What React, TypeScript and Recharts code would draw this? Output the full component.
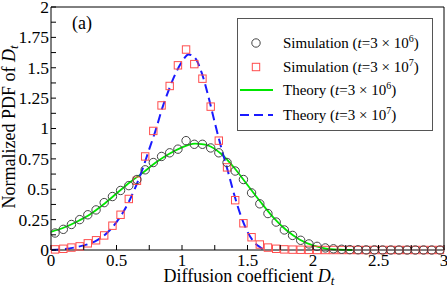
import React from 'react';
import { ComposedChart, XAxis, YAxis, Scatter, Line, Legend } from 'recharts';

// histogram bin centres of D_t (bin width 1/16)
const binCenters = [
  0.031, 0.094, 0.156, 0.219, 0.281, 0.344, 0.406, 0.469, 0.531, 0.594, 0.656, 0.719,
  0.781, 0.844, 0.906, 0.969, 1.031, 1.094, 1.156, 1.219, 1.281, 1.344, 1.406, 1.469,
  1.531, 1.594, 1.656, 1.719, 1.781, 1.844, 1.906, 1.969, 2.031, 2.094, 2.156, 2.219,
  2.281, 2.344, 2.406, 2.469, 2.531, 2.594, 2.656, 2.719, 2.781, 2.844, 2.906, 2.969,
];

// simulation, t = 3e6 (circles)
const simShort = [
  0.14, 0.17, 0.21, 0.25, 0.29, 0.33, 0.39, 0.44, 0.49, 0.53, 0.58, 0.66,
  0.72, 0.77, 0.8, 0.83, 0.9, 0.87, 0.87, 0.84, 0.8, 0.72, 0.65, 0.58,
  0.47, 0.38, 0.3, 0.23, 0.165, 0.12, 0.08, 0.05, 0.03, 0.017, 0.01, 0.006,
  0.003, 0.002, 0.001, 0.001, 0, 0, 0, 0, 0, 0, 0, 0,
];

// simulation, t = 3e7 (squares)
const simLong = [
  0.005, 0.01, 0.02, 0.03, 0.055, 0.08, 0.12, 0.2, 0.29, 0.42, 0.57, 0.77,
  0.98, 1.19, 1.35, 1.52, 1.65, 1.53, 1.41, 1.18, 0.9, 0.68, 0.41, 0.22,
  0.105, 0.045, 0.02, 0.01, 0.005, 0.003, 0.002, 0.001, 0, 0, 0, 0,
  0, 0, 0, 0, 0, 0, 0, 0, 0, 0, 0, 0,
];

// theory, t = 3e6 (green)
const theoryShortX = [0, 0.1, 0.2, 0.3, 0.4, 0.5, 0.6, 0.7, 0.8, 0.9, 1.0, 1.05, 1.1, 1.15, 1.2, 1.3, 1.4, 1.5, 1.6, 1.7, 1.8, 1.9, 2.0, 2.1, 2.2, 2.3];
const theoryShortY = [0.15, 0.185, 0.235, 0.295, 0.375, 0.465, 0.555, 0.635, 0.72, 0.79, 0.845, 0.865, 0.875, 0.872, 0.86, 0.79, 0.675, 0.535, 0.395, 0.265, 0.16, 0.085, 0.038, 0.012, 0.003, 0];

// theory, t = 3e7 (blue dashed)
const theoryLongX = [0, 0.1, 0.2, 0.3, 0.35, 0.4, 0.45, 0.5, 0.55, 0.6, 0.65, 0.7, 0.75, 0.8, 0.85, 0.9, 0.95, 1.0, 1.05, 1.1, 1.15, 1.2, 1.25, 1.3, 1.35, 1.4, 1.45, 1.5, 1.55, 1.6, 1.63];
const theoryLongY = [0, 0.008, 0.025, 0.055, 0.08, 0.115, 0.165, 0.23, 0.31, 0.41, 0.53, 0.67, 0.83, 0.99, 1.17, 1.32, 1.45, 1.55, 1.61, 1.58, 1.46, 1.27, 1.05, 0.84, 0.65, 0.45, 0.28, 0.15, 0.065, 0.02, 0];

const xTicks = [0, 0.25, 0.5, 0.75, 1, 1.25, 1.5, 1.75, 2, 2.25, 2.5, 2.75, 3];
const yTicks = [0, 0.125, 0.25, 0.375, 0.5, 0.625, 0.75, 0.875, 1, 1.125, 1.25, 1.375, 1.5, 1.625, 1.75, 1.875, 2];

const shortPts = binCenters.map((x, i) => ({ x, y: simShort[i] }));
const longPts = binCenters.map((x, i) => ({ x, y: simLong[i] }));
const shortCurve = theoryShortX.map((x, i) => ({ x, y: theoryShortY[i] }));
const longCurve = theoryLongX.map((x, i) => ({ x, y: theoryLongY[i] }));

const FONT = '"Liberation Serif", "Times New Roman", serif';
const GREEN = '#00e600';
const BLUE = '#1a1aff';
const RED = '#ff4d4d';
const GREY = '#444';
const TICK = 5;

const onStep = (v: number, step: number) => Math.abs(v / step - Math.round(v / step)) < 1e-6;

const BottomTick = ({ x, y, payload }: any) => (
  <g>
    <line x1={x} x2={x} y1={y} y2={y - TICK} stroke="#000" />
    {onStep(payload.value, 0.5) && (
      <text x={x} y={y + 16} textAnchor="middle" fontSize={17} fontFamily={FONT} fill="#000">
        {payload.value}
      </text>
    )}
  </g>
);

const TopTick = ({ x, y }: any) => <line x1={x} x2={x} y1={y} y2={y + TICK} stroke="#000" />;

const LeftTick = ({ x, y, payload }: any) => (
  <g>
    <line x1={x} x2={x + TICK} y1={y} y2={y} stroke="#000" />
    {onStep(payload.value, 0.25) && (
      <text x={x - 2} y={y} dy="0.34em" textAnchor="end" fontSize={17.5} fontFamily={FONT} fill="#000">
        {payload.value}
      </text>
    )}
  </g>
);

const RightTick = ({ x, y }: any) => <line x1={x} x2={x - TICK} y1={y} y2={y} stroke="#000" />;

const Circle = ({ cx, cy }: any) => <circle cx={cx} cy={cy} r={4.2} fill="none" stroke={GREY} strokeWidth={1} />;
const Square = ({ cx, cy }: any) => (
  <rect x={cx - 3.7} y={cy - 3.7} width={7.4} height={7.4} fill="none" stroke={RED} strokeWidth={1} />
);

const Label = ({ y, name, exp }: { y: number; name: string; exp: string }) => (
  <text x={46} y={y + 5} fontSize={15} fontFamily={FONT} fill="#000">
    {name} (<tspan fontStyle="italic">t</tspan>=3 × 10
    <tspan dy={-6} fontSize={10}>{exp}</tspan>
    <tspan dy={6}>)</tspan>
  </text>
);

const LegendBox = () => (
  <svg width={196} height={113} style={{ display: 'block' }}>
    <rect x={0.5} y={0.5} width={195} height={112} fill="#fff" stroke="#555" />
    <circle cx={19} cy={25} r={4.2} fill="none" stroke={GREY} />
    <Label y={25} name="Simulation" exp="6" />
    <rect x={15.3} y={45.3} width={7.4} height={7.4} fill="none" stroke={RED} />
    <Label y={49} name="Simulation" exp="7" />
    <line x1={3} x2={36} y1={72} y2={72} stroke={GREEN} strokeWidth={1.8} />
    <Label y={72} name="Theory" exp="6" />
    <line x1={3} x2={36} y1={97} y2={97} stroke={BLUE} strokeWidth={2} strokeDasharray="9 5" />
    <Label y={97} name="Theory" exp="7" />
  </svg>
);

export default function App() {
  return (
    <div style={{ position: 'absolute', left: 0, top: 0, width: 447, height: 289, background: '#fff' }}>
      <ComposedChart width={447} height={289} margin={{ top: 0, right: 0, bottom: 0, left: 0 }}>
        <XAxis
          dataKey="x"
          type="number"
          domain={[0, 3]}
          ticks={xTicks}
          interval={0}
          height={39}
          tickSize={0}
          tickMargin={0}
          tickLine={false}
          tick={<BottomTick />}
          axisLine={{ stroke: '#000' }}
        />
        <XAxis
          xAxisId="top"
          orientation="top"
          type="number"
          domain={[0, 3]}
          ticks={xTicks}
          interval={0}
          height={7}
          tickSize={0}
          tickMargin={0}
          tickLine={false}
          tick={<TopTick />}
          axisLine={{ stroke: '#000' }}
        />
        <YAxis
          dataKey="y"
          type="number"
          domain={[0, 2]}
          ticks={yTicks}
          interval={0}
          width={51}
          tickSize={0}
          tickMargin={0}
          tickLine={false}
          tick={<LeftTick />}
          axisLine={{ stroke: '#000' }}
        />
        <YAxis
          yAxisId="right"
          orientation="right"
          type="number"
          domain={[0, 2]}
          ticks={yTicks}
          interval={0}
          width={3}
          tickSize={0}
          tickMargin={0}
          tickLine={false}
          tick={<RightTick />}
          axisLine={{ stroke: '#000' }}
        />
        <Scatter data={longPts} dataKey="y" shape={<Square />} isAnimationActive={false} />
        <Scatter data={shortPts} dataKey="y" shape={<Circle />} isAnimationActive={false} />
        <Line data={shortCurve} dataKey="y" type="monotone" stroke={GREEN} strokeWidth={1.8} dot={false} activeDot={false} isAnimationActive={false} />
        <Line data={longCurve} dataKey="y" type="monotone" stroke={BLUE} strokeWidth={2} strokeDasharray="9 5" dot={false} activeDot={false} isAnimationActive={false} />
        <Legend
          layout="vertical"
          align="center"
          verticalAlign="middle"
          content={() => <LegendBox />}
          wrapperStyle={{ left: 237, top: 18, width: 196, height: 113, right: 'auto', bottom: 'auto' }}
        />
      </ComposedChart>
      <svg width={447} height={289} style={{ position: 'absolute', left: 0, top: 0, pointerEvents: 'none' }}>
        <text x={72} y={29} fontSize={18} fontFamily={FONT} fill="#000">(a)</text>
        <text x={249} y={282} textAnchor="middle" fontSize={18} fontFamily={FONT} fill="#000">
          Diffusion coefficient <tspan fontStyle="italic">D</tspan>
          <tspan fontStyle="italic" fontSize={13} dy={3}>t</tspan>
        </text>
        <text transform="translate(15,127) rotate(-90)" textAnchor="middle" fontSize={18} fontFamily={FONT} fill="#000">
          Normalized PDF of <tspan fontStyle="italic">D</tspan>
          <tspan fontStyle="italic" fontSize={13} dy={3}>t</tspan>
        </text>
      </svg>
    </div>
  );
}
